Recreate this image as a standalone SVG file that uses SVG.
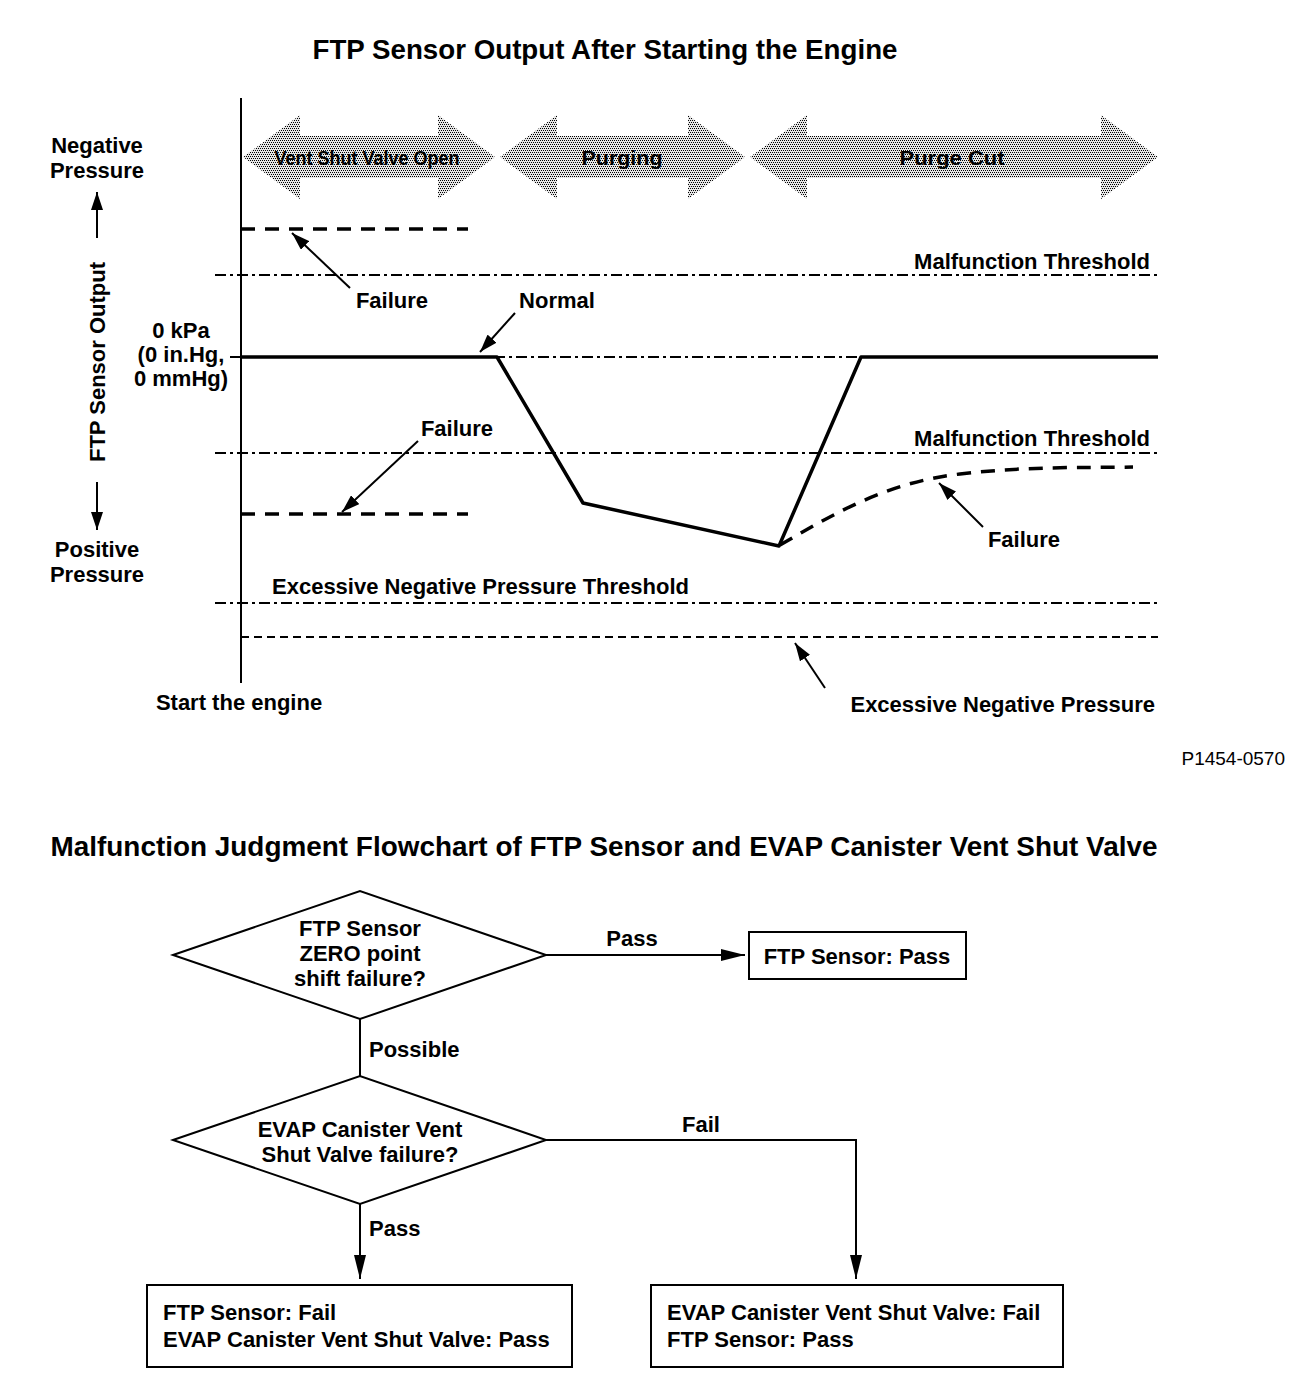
<svg xmlns="http://www.w3.org/2000/svg" width="1312" height="1384" viewBox="0 0 1312 1384">
<style>
text{font-family:"Liberation Sans",Arial,sans-serif;font-weight:bold;fill:#000}
.t{font-size:28px}
.l{font-size:22px}
.c{font-size:21px}
.thr{stroke:#000;stroke-width:2;stroke-dasharray:11 4 3 4;fill:none}
.ln{stroke:#000;stroke-width:2;fill:none}
.cur{stroke:#000;stroke-width:3.5;fill:none;stroke-linejoin:round}
.fd{stroke:#000;stroke-width:3.5;fill:none;stroke-dasharray:14 10}
.band{fill:url(#stip);stroke:none}
</style>
<defs>
<pattern id="stip" patternUnits="userSpaceOnUse" width="4" height="4">
<rect width="4" height="4" fill="#e6e6e6"/>
<rect x="0" y="0" width="1" height="1" fill="#000"/>
<rect x="2" y="0" width="1" height="1" fill="#000"/>
<rect x="1" y="2" width="1" height="1" fill="#000"/>
<rect x="3" y="2" width="1" height="1" fill="#000"/>
</pattern>
<marker id="ah" markerUnits="userSpaceOnUse" markerWidth="20" markerHeight="12" refX="18" refY="6" orient="auto">
<path d="M0,0 L18,6 L0,12 Z" fill="#000"/>
</marker>
<marker id="fh" markerUnits="userSpaceOnUse" markerWidth="26" markerHeight="12" refX="24" refY="6" orient="auto">
<path d="M0,0 L24,6 L0,12 Z" fill="#000"/>
</marker>
</defs>

<text class="t" x="605" y="59" text-anchor="middle" textLength="585" lengthAdjust="spacingAndGlyphs">FTP Sensor Output After Starting the Engine</text>

<g id="phases">
<path class="band" d="M243,157 L300,115 L300,136 L438,136 L438,115 L495,157 L438,199 L438,178 L300,178 L300,199 Z"/>
<text class="c" x="367" y="165" text-anchor="middle" textLength="185" lengthAdjust="spacingAndGlyphs">Vent Shut Valve Open</text>
<path class="band" d="M500,157 L557,115 L557,136 L688,136 L688,115 L745,157 L688,199 L688,178 L557,178 L557,199 Z"/>
<text class="c" x="622" y="165" text-anchor="middle" textLength="81" lengthAdjust="spacingAndGlyphs">Purging</text>
<path class="band" d="M750,157 L807,115 L807,136 L1101,136 L1101,115 L1158,157 L1101,199 L1101,178 L807,178 L807,199 Z"/>
<text class="c" x="952" y="165" text-anchor="middle" textLength="105" lengthAdjust="spacingAndGlyphs">Purge Cut</text>
</g>

<g id="axis">
<line class="ln" x1="241" y1="98" x2="241" y2="683"/>
<text class="l" x="97" y="153" text-anchor="middle">Negative</text>
<text class="l" x="97" y="178" text-anchor="middle">Pressure</text>
<line class="ln" x1="97" y1="238" x2="97" y2="192" marker-end="url(#ah)"/>
<text class="l" transform="translate(105,362) rotate(-90)" text-anchor="middle">FTP Sensor Output</text>
<line class="ln" x1="97" y1="482" x2="97" y2="530" marker-end="url(#ah)"/>
<text class="l" x="97" y="557" text-anchor="middle">Positive</text>
<text class="l" x="97" y="582" text-anchor="middle">Pressure</text>
<text class="l" x="181" y="338" text-anchor="middle">0 kPa</text>
<text class="l" x="181" y="362" text-anchor="middle">(0 in.Hg,</text>
<text class="l" x="181" y="386" text-anchor="middle">0 mmHg)</text>
<text class="l" x="239" y="710" text-anchor="middle">Start the engine</text>
</g>

<g id="thresholds">
<line class="thr" x1="215" y1="275" x2="1158" y2="275"/>
<text class="l" x="1150" y="269" text-anchor="end">Malfunction Threshold</text>
<line class="thr" x1="230" y1="357" x2="1158" y2="357"/>
<line class="thr" x1="215" y1="453" x2="1158" y2="453"/>
<text class="l" x="1150" y="446" text-anchor="end">Malfunction Threshold</text>
<line class="thr" x1="215" y1="603" x2="1158" y2="603"/>
<text class="l" x="272" y="594">Excessive Negative Pressure Threshold</text>
<line x1="241" y1="637" x2="1158" y2="637" stroke="#000" stroke-width="2" stroke-dasharray="8 5"/>
<text class="l" x="1155" y="712" text-anchor="end">Excessive Negative Pressure</text>
</g>

<g id="curves">
<polyline class="cur" points="241,357 497,357 583,503 779,546 861,357 1158,357"/>
<line class="fd" x1="241" y1="229" x2="468" y2="229"/>
<line class="fd" x1="241" y1="514" x2="468" y2="514"/>
<path class="fd" d="M780,545 C840,510 890,482 960,474 S1080,468 1133,467"/>
</g>

<g id="callouts">
<text class="l" x="392" y="308" text-anchor="middle">Failure</text>
<line class="ln" x1="350" y1="288" x2="292" y2="233" marker-end="url(#ah)"/>
<text class="l" x="557" y="308" text-anchor="middle">Normal</text>
<line class="ln" x1="515" y1="313" x2="480" y2="352" marker-end="url(#ah)"/>
<text class="l" x="457" y="436" text-anchor="middle">Failure</text>
<line class="ln" x1="418" y1="441" x2="342" y2="512" marker-end="url(#ah)"/>
<text class="l" x="1024" y="547" text-anchor="middle">Failure</text>
<line class="ln" x1="983" y1="527" x2="939" y2="483" marker-end="url(#ah)"/>
<line class="ln" x1="825" y1="688" x2="795" y2="643" marker-end="url(#ah)"/>
</g>

<text x="1285" y="765" text-anchor="end" style="font-weight:normal;font-size:19px">P1454-0570</text>

<text class="t" x="604" y="856" text-anchor="middle" textLength="1107" lengthAdjust="spacingAndGlyphs">Malfunction Judgment Flowchart of FTP Sensor and EVAP Canister Vent Shut Valve</text>

<g id="connectors">
<line class="ln" x1="546" y1="955" x2="745" y2="955" marker-end="url(#fh)"/>
<text class="l" x="632" y="946" text-anchor="middle">Pass</text>
<line class="ln" x1="360" y1="1019" x2="360" y2="1077"/>
<text class="l" x="369" y="1057">Possible</text>
<line class="ln" x1="360" y1="1204" x2="360" y2="1279" marker-end="url(#fh)"/>
<text class="l" x="369" y="1236">Pass</text>
<polyline class="ln" points="546,1140 856,1140 856,1279" marker-end="url(#fh)"/>
<text class="l" x="701" y="1132" text-anchor="middle">Fail</text>
</g>

<g id="d1">
<polygon class="ln" points="173,955 360,891 546,955 360,1019"/>
<text class="l" x="360" y="936" text-anchor="middle">FTP Sensor</text>
<text class="l" x="360" y="961" text-anchor="middle">ZERO point</text>
<text class="l" x="360" y="986" text-anchor="middle">shift failure?</text>
</g>
<g id="b1">
<rect class="ln" x="749" y="932" width="217" height="47"/>
<text class="l" x="857" y="964" text-anchor="middle">FTP Sensor: Pass</text>
</g>
<g id="d2">
<polygon class="ln" points="173,1140 360,1076 546,1140 360,1204"/>
<text class="l" x="360" y="1137" text-anchor="middle">EVAP Canister Vent</text>
<text class="l" x="360" y="1162" text-anchor="middle">Shut Valve failure?</text>
</g>
<g id="b2">
<rect class="ln" x="147" y="1285" width="425" height="82"/>
<text class="l" x="163" y="1320">FTP Sensor: Fail</text>
<text class="l" x="163" y="1347">EVAP Canister Vent Shut Valve: Pass</text>
</g>
<g id="b3">
<rect class="ln" x="651" y="1285" width="412" height="82"/>
<text class="l" x="667" y="1320">EVAP Canister Vent Shut Valve: Fail</text>
<text class="l" x="667" y="1347">FTP Sensor: Pass</text>
</g>
</svg>
